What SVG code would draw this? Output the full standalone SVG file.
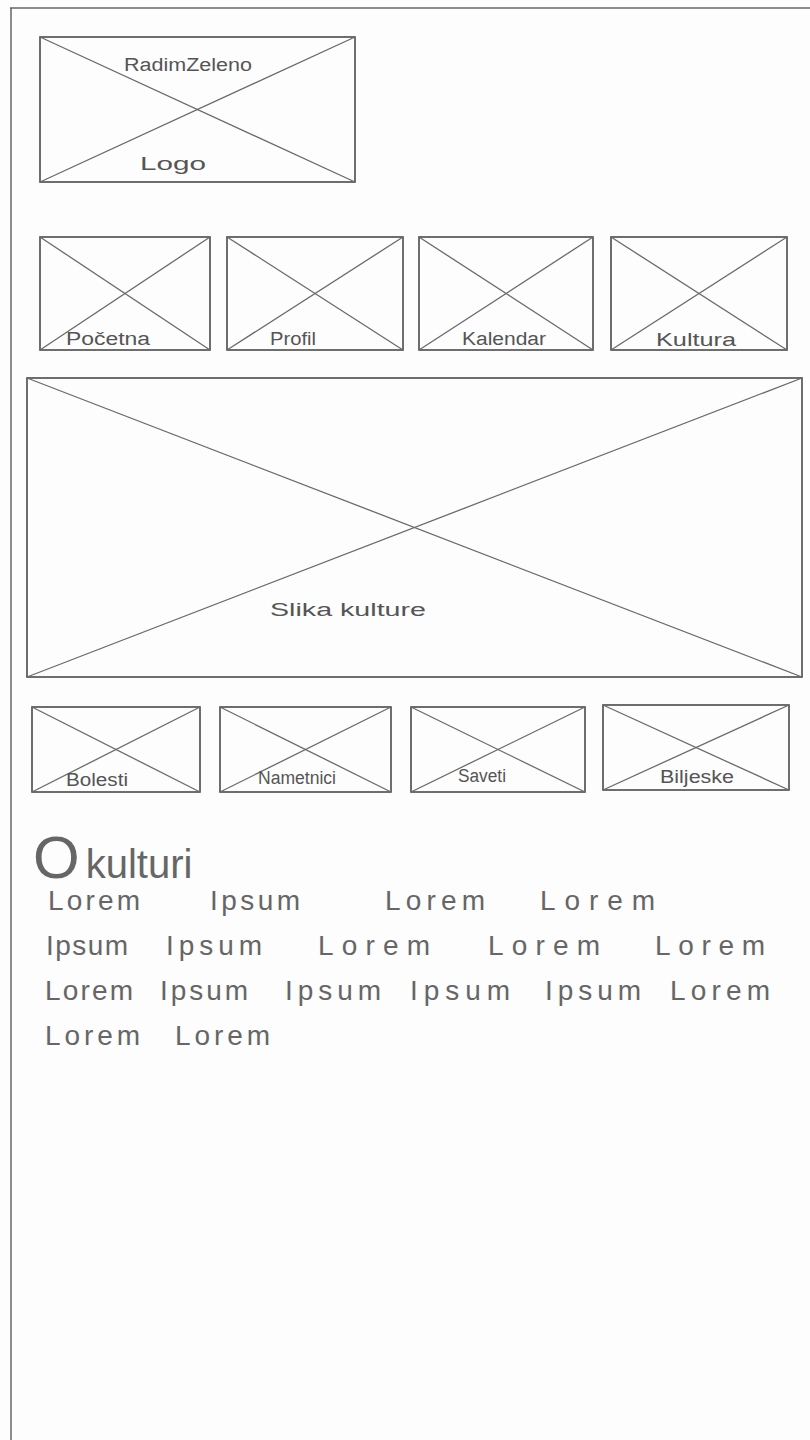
<svg xmlns="http://www.w3.org/2000/svg" width="810" height="1440" viewBox="0 0 810 1440">
<style>
.box{fill:none;stroke:#4a4a4a;stroke-width:1.6}
.x{stroke:#6a6a6a;stroke-width:1.3}
.lbl{font-family:"Liberation Sans",Arial,sans-serif;fill:#555;font-size:18px}
.body{font-family:"Liberation Sans",Arial,sans-serif;fill:#666;font-size:28px}
.frame{stroke:#666;stroke-width:1.5;fill:none}
</style>
<rect width="810" height="1440" fill="#fdfdfd"/>
<g id="frame">
<line class="frame" x1="10" y1="8" x2="810" y2="8"/>
<line class="frame" x1="11" y1="8" x2="11" y2="1440"/>
</g>
<g id="logo">
<rect class="box" x="40" y="37" width="315" height="145"/>
<line class="x" x1="40" y1="37" x2="355" y2="182"/>
<line class="x" x1="40" y1="182" x2="355" y2="37"/>
<text class="lbl" x="124" y="71" font-size="22" textLength="128" lengthAdjust="spacingAndGlyphs">RadimZeleno</text>
<text class="lbl" x="140" y="170" font-size="24" textLength="66" lengthAdjust="spacingAndGlyphs">Logo</text>
</g>
<g id="nav-pocetna">
<rect class="box" x="40" y="237" width="170" height="113"/>
<line class="x" x1="40" y1="237" x2="210" y2="350"/>
<line class="x" x1="40" y1="350" x2="210" y2="237"/>
<text class="lbl" x="66" y="345" textLength="84" lengthAdjust="spacingAndGlyphs">Početna</text>
</g>
<g id="nav-profil">
<rect class="box" x="227" y="237" width="176" height="113"/>
<line class="x" x1="227" y1="237" x2="403" y2="350"/>
<line class="x" x1="227" y1="350" x2="403" y2="237"/>
<text class="lbl" x="270" y="345" textLength="46" lengthAdjust="spacingAndGlyphs">Profil</text>
</g>
<g id="nav-kalendar">
<rect class="box" x="419" y="237" width="174" height="113"/>
<line class="x" x1="419" y1="237" x2="593" y2="350"/>
<line class="x" x1="419" y1="350" x2="593" y2="237"/>
<text class="lbl" x="462" y="345" textLength="84" lengthAdjust="spacingAndGlyphs">Kalendar</text>
</g>
<g id="nav-kultura">
<rect class="box" x="611" y="237" width="176" height="113"/>
<line class="x" x1="611" y1="237" x2="787" y2="350"/>
<line class="x" x1="611" y1="350" x2="787" y2="237"/>
<text class="lbl" x="656" y="346" textLength="80" lengthAdjust="spacingAndGlyphs">Kultura</text>
</g>
<g id="hero">
<rect class="box" x="27" y="378" width="775" height="299"/>
<line class="x" x1="27" y1="378" x2="802" y2="677"/>
<line class="x" x1="27" y1="677" x2="802" y2="378"/>
<text class="lbl" x="270" y="616" font-size="28" textLength="156" lengthAdjust="spacingAndGlyphs">Slika kulture</text>
</g>
<g id="sub-bolesti">
<rect class="box" x="32" y="707" width="168" height="85"/>
<line class="x" x1="32" y1="707" x2="200" y2="792"/>
<line class="x" x1="32" y1="792" x2="200" y2="707"/>
<text class="lbl" x="66" y="786" textLength="62" lengthAdjust="spacingAndGlyphs">Bolesti</text>
</g>
<g id="sub-nametnici">
<rect class="box" x="220" y="707" width="171" height="85"/>
<line class="x" x1="220" y1="707" x2="391" y2="792"/>
<line class="x" x1="220" y1="792" x2="391" y2="707"/>
<text class="lbl" x="258" y="784" textLength="78" lengthAdjust="spacingAndGlyphs">Nametnici</text>
</g>
<g id="sub-saveti">
<rect class="box" x="411" y="707" width="174" height="85"/>
<line class="x" x1="411" y1="707" x2="585" y2="792"/>
<line class="x" x1="411" y1="792" x2="585" y2="707"/>
<text class="lbl" x="458" y="782" textLength="48" lengthAdjust="spacingAndGlyphs">Saveti</text>
</g>
<g id="sub-biljeske">
<rect class="box" x="603" y="705" width="186" height="85"/>
<line class="x" x1="603" y1="705" x2="789" y2="790"/>
<line class="x" x1="603" y1="790" x2="789" y2="705"/>
<text class="lbl" x="660" y="783" textLength="74" lengthAdjust="spacingAndGlyphs">Biljeske</text>
</g>
<g id="about">
<text class="body" x="33" y="878" fill="#555"><tspan font-size="60">O</tspan><tspan font-size="40" dx="6">kulturi</tspan></text>
<g id="line1">
<text class="body" x="48" y="910" textLength="92" lengthAdjust="spacing">Lorem</text>
<text class="body" x="210" y="910" textLength="90" lengthAdjust="spacing">Ipsum</text>
<text class="body" x="385" y="910" textLength="100" lengthAdjust="spacing">Lorem</text>
<text class="body" x="540" y="910" textLength="115" lengthAdjust="spacing">Lorem</text>
</g>
<g id="line2">
<text class="body" x="46" y="955" textLength="82" lengthAdjust="spacing">Ipsum</text>
<text class="body" x="166" y="955" textLength="96" lengthAdjust="spacing">Ipsum</text>
<text class="body" x="318" y="955" textLength="112" lengthAdjust="spacing">Lorem</text>
<text class="body" x="488" y="955" textLength="112" lengthAdjust="spacing">Lorem</text>
<text class="body" x="655" y="955" textLength="110" lengthAdjust="spacing">Lorem</text>
</g>
<g id="line3">
<text class="body" x="45" y="1000" textLength="88" lengthAdjust="spacing">Lorem</text>
<text class="body" x="160" y="1000" textLength="88" lengthAdjust="spacing">Ipsum</text>
<text class="body" x="285" y="1000" textLength="96" lengthAdjust="spacing">Ipsum</text>
<text class="body" x="410" y="1000" textLength="100" lengthAdjust="spacing">Ipsum</text>
<text class="body" x="545" y="1000" textLength="96" lengthAdjust="spacing">Ipsum</text>
<text class="body" x="670" y="1000" textLength="100" lengthAdjust="spacing">Lorem</text>
</g>
<g id="line4">
<text class="body" x="45" y="1045" textLength="95" lengthAdjust="spacing">Lorem</text>
<text class="body" x="175" y="1045" textLength="95" lengthAdjust="spacing">Lorem</text>
</g>
</g>
</svg>
